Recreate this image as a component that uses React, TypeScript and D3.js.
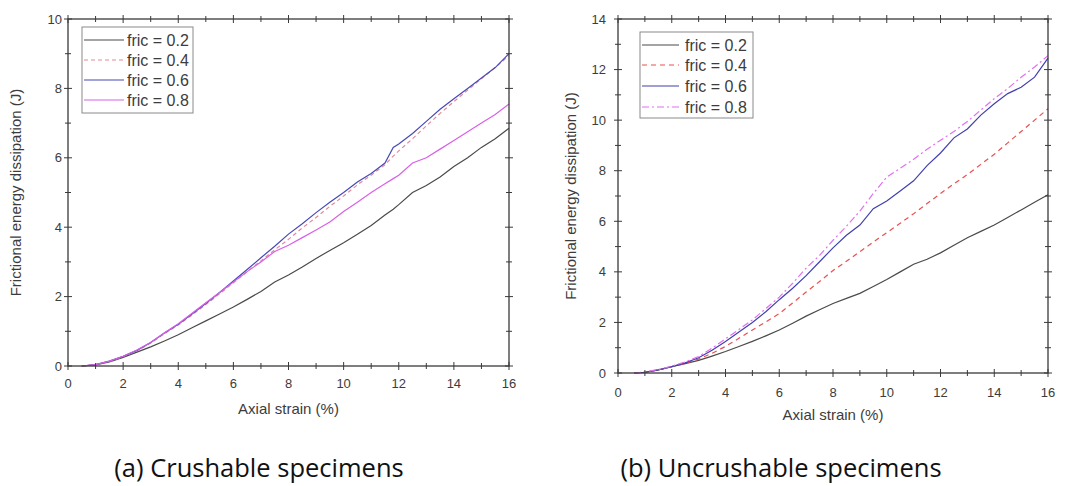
import React from "react";
import * as d3 from "d3";

// ---------- DATA ----------
const seriesLabels = ["fric = 0.2", "fric = 0.4", "fric = 0.6", "fric = 0.8"];

// (a) Crushable specimens
const crushStrain = [0.5, 1, 1.5, 2, 2.5, 3, 3.5, 4, 4.5, 5, 5.5, 6, 6.5, 7, 7.5, 8, 8.5, 9, 9.5, 10, 10.5, 11, 11.5, 11.8, 12, 12.5, 13, 13.5, 14, 14.5, 15, 15.5, 16];
const crushF02 = [0, 0.03, 0.12, 0.25, 0.4, 0.55, 0.72, 0.9, 1.1, 1.3, 1.5, 1.7, 1.92, 2.15, 2.42, 2.62, 2.85, 3.1, 3.33, 3.55, 3.8, 4.05, 4.35, 4.52, 4.65, 5.0, 5.2, 5.45, 5.75, 6.0, 6.3, 6.55, 6.85];
const crushF04 = [0, 0.04, 0.13, 0.27, 0.44, 0.66, 0.93, 1.18, 1.47, 1.77, 2.08, 2.4, 2.72, 3.03, 3.35, 3.65, 3.98, 4.28, 4.6, 4.9, 5.22, 5.5, 5.8, 6.05, 6.2, 6.55, 6.92, 7.28, 7.62, 7.95, 8.28, 8.6, 8.95];
const crushF06 = [0, 0.04, 0.14, 0.28, 0.45, 0.68, 0.95, 1.2, 1.5, 1.8, 2.12, 2.45, 2.78, 3.12, 3.45, 3.8, 4.1, 4.42, 4.72, 5.0, 5.3, 5.55, 5.85, 6.3, 6.4, 6.7, 7.05, 7.4, 7.7, 8.0, 8.3, 8.6, 9.0];
const crushF08 = [0, 0.04, 0.14, 0.28, 0.46, 0.68, 0.96, 1.22, 1.52, 1.82, 2.12, 2.42, 2.72, 3.0, 3.3, 3.48, 3.7, 3.92, 4.15, 4.45, 4.72, 5.0, 5.25, 5.4, 5.5, 5.85, 6.0, 6.25, 6.5, 6.75, 7.0, 7.25, 7.55];

// (b) Uncrushable specimens
const uncrushStrain = [0.6, 1, 1.5, 2, 2.5, 3, 3.5, 4, 4.5, 5, 5.5, 6, 6.5, 7, 7.5, 8, 8.5, 9, 9.5, 10, 10.5, 11, 11.5, 12, 12.5, 13, 13.5, 14, 14.5, 15, 15.5, 16];
const uncrushF02 = [0, 0.02, 0.12, 0.25, 0.37, 0.5, 0.67, 0.85, 1.05, 1.25, 1.47, 1.7, 1.97, 2.25, 2.5, 2.75, 2.95, 3.15, 3.42, 3.7, 4.0, 4.3, 4.5, 4.75, 5.05, 5.35, 5.6, 5.85, 6.15, 6.45, 6.75, 7.05];
const uncrushF04 = [0, 0.03, 0.12, 0.25, 0.38, 0.55, 0.78, 1.05, 1.37, 1.7, 2.02, 2.35, 2.77, 3.2, 3.62, 4.05, 4.42, 4.8, 5.18, 5.55, 5.92, 6.3, 6.7, 7.1, 7.48, 7.85, 8.25, 8.65, 9.1, 9.55, 10.0, 10.45];
const uncrushF06 = [0, 0.03, 0.12, 0.25, 0.4, 0.6, 0.9, 1.25, 1.62, 2.0, 2.42, 2.9, 3.35, 3.85, 4.4, 4.95, 5.45, 5.85, 6.5, 6.8, 7.2, 7.6, 8.2, 8.7, 9.3, 9.65, 10.2, 10.65, 11.05, 11.3, 11.7, 12.45];
const uncrushF08 = [0, 0.04, 0.14, 0.27, 0.44, 0.65, 0.98, 1.35, 1.72, 2.1, 2.55, 3.0, 3.55, 4.15, 4.65, 5.25, 5.8, 6.4, 7.1, 7.75, 8.1, 8.45, 8.85, 9.2, 9.55, 9.95, 10.4, 10.85, 11.25, 11.7, 12.1, 12.55];

const xTicks = [0, 2, 4, 6, 8, 10, 12, 14, 16];
const crushYTicks = [0, 2, 4, 6, 8, 10];
const uncrushYTicks = [0, 2, 4, 6, 8, 10, 12, 14];

const xTitle = "Axial strain (%)";
const yTitle = "Frictional energy dissipation (J)";
const captionA = "(a) Crushable specimens";
const captionB = "(b) Uncrushable specimens";

// ---------- STYLE ----------
const axisColor = "#3a3a3a";
const textColor = "#3c3c3c";
const font = "'Liberation Sans', Arial, sans-serif";

type SeriesStyle = { color: string; dash?: string };

type PanelProps = {
  left: number; right: number; top: number; bottom: number;
  yMax: number; yTicks: number[];
  strain: number[]; series: number[][];
  styles: SeriesStyle[];
  legend: { x: number; y: number; w: number; h: number; rowY: number[]; lineW: number; textX: number };
  xLabelY: number; yLabelX: number; xTitleY: number; yTitleX: number;
  caption: string; captionX: number;
};

function Panel(p: PanelProps) {
  const x = d3.scaleLinear().domain([0, 16]).range([p.left, p.right]);
  const y = d3.scaleLinear().domain([0, p.yMax]).range([p.bottom, p.top]);
  const line = d3.line<[number, number]>().x((d) => x(d[0])).y((d) => y(d[1]));
  const xMinor = d3.range(1, 16, 2);
  const yMinor = d3.range(1, p.yMax, 2);
  const tl = 4;
  const mn = 3;
  return (
    <g>
      {p.series.map((vals, i) => (
        <path
          key={i}
          d={line(p.strain.map((s, j) => [s, vals[j]] as [number, number])) || ""}
          fill="none"
          stroke={p.styles[i].color}
          strokeWidth={1.2}
          strokeDasharray={p.styles[i].dash}
        />
      ))}
      <rect x={p.left} y={p.top} width={p.right - p.left} height={p.bottom - p.top} fill="none" stroke={axisColor} strokeWidth={1.3} />
      {xTicks.map((t) => (
        <g key={"xt" + t}>
          <line x1={x(t)} x2={x(t)} y1={p.bottom - tl} y2={p.bottom + tl} stroke={axisColor} strokeWidth={1} />
          <line x1={x(t)} x2={x(t)} y1={p.top - tl} y2={p.top + tl} stroke={axisColor} strokeWidth={1} />
          <text x={x(t)} y={p.xLabelY} textAnchor="middle" fontSize={13} fill={textColor} fontFamily={font}>{t}</text>
        </g>
      ))}
      {xMinor.map((t) => (
        <g key={"xm" + t}>
          <line x1={x(t)} x2={x(t)} y1={p.bottom - mn} y2={p.bottom + mn} stroke={axisColor} strokeWidth={1} />
          <line x1={x(t)} x2={x(t)} y1={p.top - mn} y2={p.top + mn} stroke={axisColor} strokeWidth={1} />
        </g>
      ))}
      {p.yTicks.map((t) => (
        <g key={"yt" + t}>
          <line x1={p.left - tl} x2={p.left + tl} y1={y(t)} y2={y(t)} stroke={axisColor} strokeWidth={1} />
          <line x1={p.right - tl} x2={p.right + tl} y1={y(t)} y2={y(t)} stroke={axisColor} strokeWidth={1} />
          <text x={p.yLabelX} y={y(t) + 4.5} textAnchor="end" fontSize={13} fill={textColor} fontFamily={font}>{t}</text>
        </g>
      ))}
      {yMinor.map((t) => (
        <g key={"ym" + t}>
          <line x1={p.left - mn} x2={p.left + mn} y1={y(t)} y2={y(t)} stroke={axisColor} strokeWidth={1} />
          <line x1={p.right - mn} x2={p.right + mn} y1={y(t)} y2={y(t)} stroke={axisColor} strokeWidth={1} />
        </g>
      ))}
      <text x={(p.left + p.right) / 2} y={p.xTitleY} textAnchor="middle" fontSize={15} fill={textColor} fontFamily={font}>{xTitle}</text>
      <text
        transform={`translate(${p.yTitleX},${(p.top + p.bottom) / 2}) rotate(-90)`}
        textAnchor="middle" dominantBaseline="middle" fontSize={15} fill={textColor} fontFamily={font}
      >{yTitle}</text>
      <rect x={p.legend.x} y={p.legend.y} width={p.legend.w} height={p.legend.h} fill="white" stroke="#8a8a8a" strokeWidth={1} />
      {seriesLabels.map((lab, i) => (
        <g key={lab}>
          <line x1={p.legend.x + 2} x2={p.legend.x + 2 + p.legend.lineW} y1={p.legend.rowY[i]} y2={p.legend.rowY[i]}
            stroke={p.styles[i].color} strokeWidth={1.2} strokeDasharray={p.styles[i].dash} />
          <text x={p.legend.textX} y={p.legend.rowY[i] + 5.5} fontSize={16} fill={textColor} fontFamily={font}>{lab}</text>
        </g>
      ))}
      <text x={p.captionX} y={477} textAnchor="middle" fontSize={25.5} fill="#111" fontFamily="'Open Sans', 'Noto Sans', sans-serif">{p.caption}</text>
    </g>
  );
}

export default function App() {
  const stylesA: SeriesStyle[] = [
    { color: "#4a4a4a" },
    { color: "#e08a9a", dash: "4 3" },
    { color: "#4848b8" },
    { color: "#d860e8" },
  ];
  const stylesB: SeriesStyle[] = [
    { color: "#4a4a4a" },
    { color: "#e85050", dash: "5 4" },
    { color: "#4040b0" },
    { color: "#e070f0", dash: "7 3 2 3" },
  ];
  return (
    <svg width={1090} height={486} style={{ position: "absolute", left: 0, top: 0, background: "white" }}>
      <rect width={1090} height={486} fill="white" />
      <Panel
        left={68} right={509} top={19} bottom={366}
        yMax={10} yTicks={crushYTicks}
        strain={crushStrain} series={[crushF02, crushF04, crushF06, crushF08]}
        styles={stylesA}
        legend={{ x: 82, y: 27, w: 111, h: 86, rowY: [40, 60, 80, 100], lineW: 40, textX: 127 }}
        xLabelY={388} yLabelX={62} xTitleY={414} yTitleX={17}
        caption={captionA} captionX={259}
      />
      <Panel
        left={618} right={1048} top={19} bottom={373}
        yMax={14} yTicks={uncrushYTicks}
        strain={uncrushStrain} series={[uncrushF02, uncrushF04, uncrushF06, uncrushF08]}
        styles={stylesB}
        legend={{ x: 640, y: 32, w: 113, h: 86, rowY: [45, 65, 86, 107], lineW: 37, textX: 685 }}
        xLabelY={397} yLabelX={606} xTitleY={420} yTitleX={572}
        caption={captionB} captionX={781}
      />
    </svg>
  );
}
